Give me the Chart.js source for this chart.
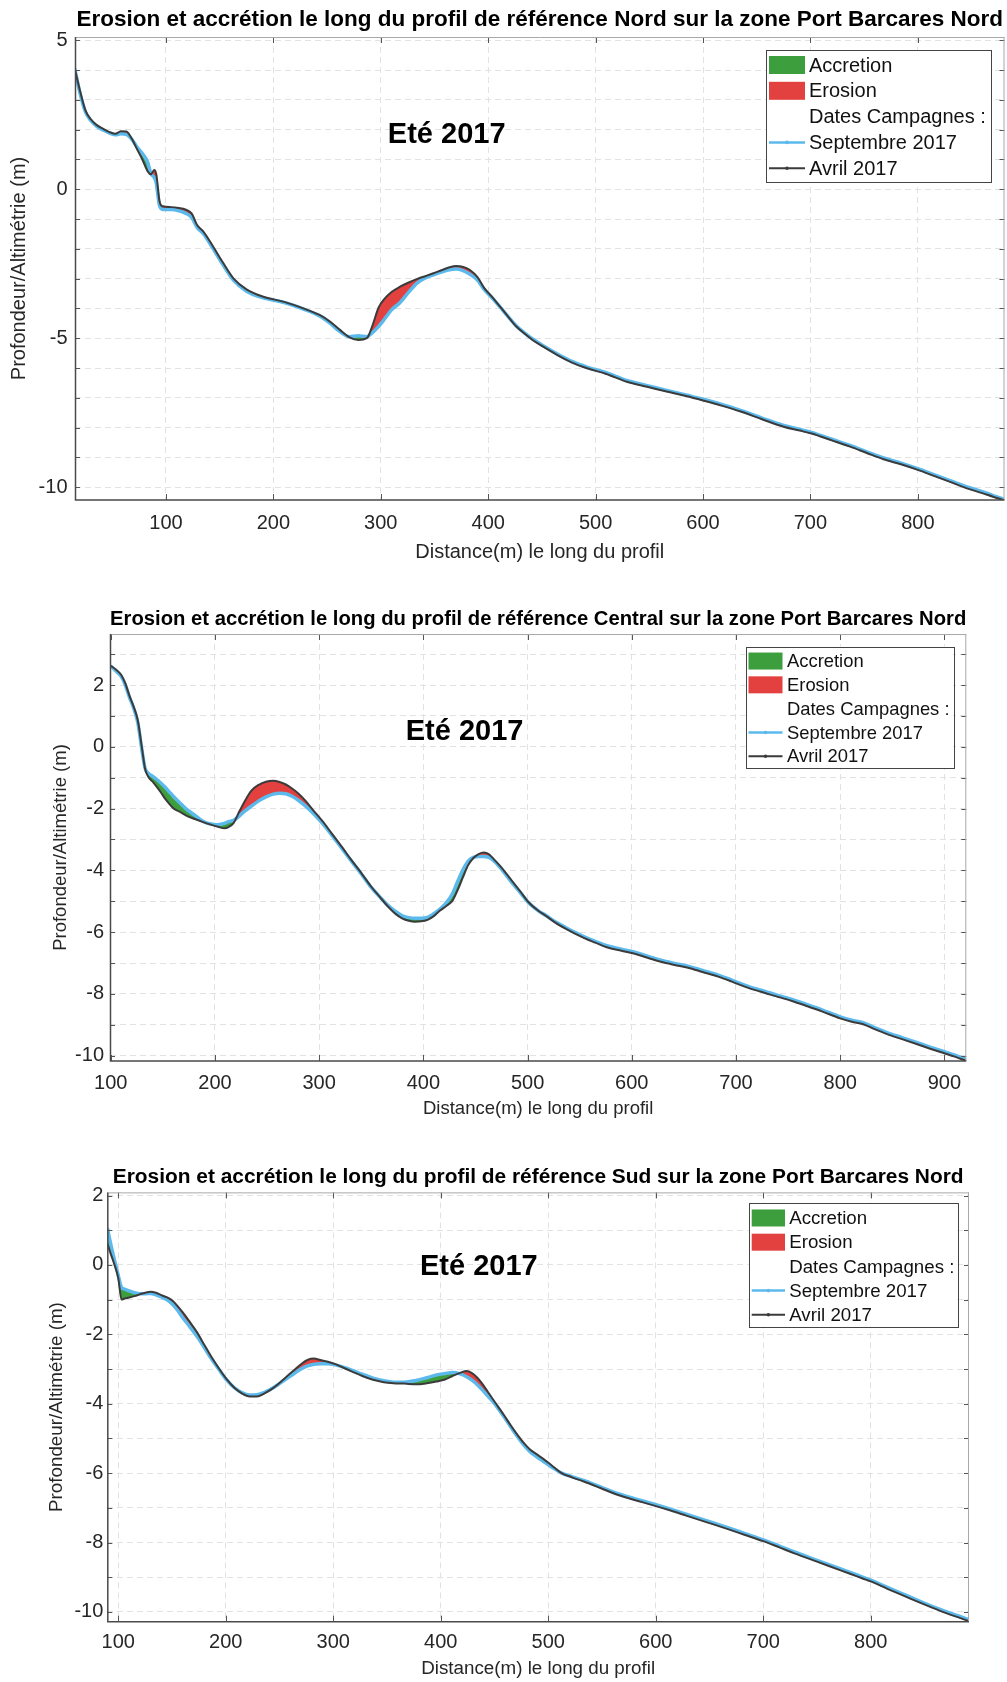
<!DOCTYPE html>
<html lang="fr">
<head>
<meta charset="utf-8">
<title>Erosion et accrétion - Port Barcares Nord - Eté 2017</title>
<script src="https://cdn.jsdelivr.net/npm/chart.js@4.4.1/dist/chart.umd.min.js"></script>
<style>
  html, body { margin: 0; padding: 0; background: #fff; }
  body { width: 1007px; height: 1682px; position: relative; overflow: hidden; }
  canvas { position: absolute; left: 0; }
  #profilNord { top: 0; }
  #profilCentral { top: 585px; }
  #profilSud { top: 1140px; }
</style>
</head>
<body>
<canvas id="profilNord" width="1007" height="575"></canvas>
<canvas id="profilCentral" width="1007" height="545"></canvas>
<canvas id="profilSud" width="1007" height="542"></canvas>

<script>

// profil Nord
const distNord = [15, 20, 25, 30, 35, 42, 48, 53, 58, 63,
  68, 73, 78, 83, 86, 89, 91, 94, 97, 105,
  112, 118, 124, 129, 135, 144, 153, 163, 175, 190,
  210, 228, 243, 253, 262, 271, 279, 287, 292, 298,
  303, 310, 318, 326, 334, 342, 349, 357, 364, 370,
  376, 383, 390, 396, 404, 411, 418, 426, 434, 441,
  452, 464, 478, 492, 510, 529, 548, 566, 584, 600,
  618, 635, 655, 675, 690, 701, 720, 737, 753, 768,
  785, 800, 815, 830, 845, 860, 870, 880];
const avrilNord = [4.06, 3.3, 2.65, 2.35, 2.17, 2.02, 1.91, 1.86, 1.95, 1.94,
  1.71, 1.35, 1.0, 0.6, 0.5, 0.65, 0.5, -0.4, -0.57, -0.6,
  -0.63, -0.68, -0.82, -1.2, -1.43, -1.93, -2.46, -3.0, -3.36, -3.6,
  -3.78, -4.0, -4.22, -4.45, -4.72, -4.97, -5.06, -5.0, -4.6, -3.97,
  -3.7, -3.45, -3.27, -3.13, -3.01, -2.91, -2.82, -2.71, -2.62, -2.58,
  -2.6, -2.71, -2.95, -3.3, -3.63, -3.94, -4.25, -4.6, -4.85, -5.05,
  -5.3, -5.56, -5.82, -6.01, -6.2, -6.46, -6.63, -6.79, -6.94, -7.09,
  -7.27, -7.46, -7.72, -7.97, -8.1, -8.2, -8.43, -8.64, -8.86, -9.06,
  -9.24, -9.42, -9.62, -9.82, -10.03, -10.2, -10.32, -10.43];
const septNord = [4.06, 3.22, 2.6, 2.31, 2.13, 1.98, 1.88, 1.83, 1.86, 1.84,
  1.68, 1.42, 1.2, 0.9, 0.52, 0.4, 0.2, -0.55, -0.68, -0.68,
  -0.72, -0.8, -0.95, -1.28, -1.5, -2.0, -2.53, -3.06, -3.42, -3.64,
  -3.8, -4.02, -4.25, -4.5, -4.78, -4.95, -4.92, -4.95, -4.82, -4.6,
  -4.38, -4.05, -3.8, -3.45, -3.14, -2.97, -2.87, -2.77, -2.7, -2.68,
  -2.72, -2.85, -3.05, -3.35, -3.66, -3.95, -4.25, -4.58, -4.83, -5.02,
  -5.27, -5.52, -5.78, -5.97, -6.16, -6.42, -6.59, -6.75, -6.9, -7.05,
  -7.23, -7.42, -7.68, -7.93, -8.06, -8.16, -8.39, -8.6, -8.82, -9.02,
  -9.2, -9.38, -9.58, -9.78, -9.98, -10.15, -10.28, -10.4];

// profil Central
const distCentral = [100, 105, 110, 114, 118, 122, 126, 130, 133, 136,
  140, 144, 148, 152, 156, 160, 166, 172, 180, 188,
  196, 203, 209, 213, 218, 223, 228, 235, 242, 249,
  256, 262, 268, 274, 280, 287, 294, 303, 312, 322,
  331, 341, 350, 358, 366, 373, 380, 386, 392, 398,
  404, 410, 416, 422, 428, 433, 438, 443, 448, 453,
  458, 463, 468, 474, 480, 486, 493, 501, 510, 518,
  527, 536, 545, 555, 565, 576, 590, 602, 615, 628,
  641, 654, 668, 683, 696, 709, 723, 738, 753, 767,
  783, 800, 811, 822, 833, 845, 860, 874, 887, 900,
  910, 921];
const avrilCentral = [2.62, 2.5, 2.33, 2.05, 1.65, 1.3, 0.85, -0.05, -0.72, -0.97,
  -1.12, -1.29, -1.47, -1.67, -1.84, -1.99, -2.1, -2.22, -2.33, -2.43,
  -2.52, -2.59, -2.64, -2.6, -2.46, -2.12, -1.8, -1.42, -1.23, -1.13,
  -1.1, -1.14, -1.22, -1.35, -1.51, -1.75, -2.04, -2.4, -2.8, -3.25,
  -3.67, -4.11, -4.53, -4.85, -5.17, -5.4, -5.56, -5.63, -5.66, -5.65,
  -5.6, -5.48, -5.3, -5.15, -4.98, -4.63, -4.22, -3.83, -3.6, -3.47,
  -3.42, -3.48, -3.65, -3.87, -4.12, -4.38, -4.68, -5.03, -5.3, -5.48,
  -5.7, -5.88, -6.04, -6.2, -6.34, -6.49, -6.6, -6.69, -6.83, -6.96,
  -7.06, -7.15, -7.29, -7.44, -7.6, -7.77, -7.92, -8.07, -8.22, -8.38,
  -8.57, -8.79, -8.9, -8.98, -9.14, -9.3, -9.47, -9.63, -9.78, -9.92,
  -10.03, -10.17];
const septCentral = [2.62, 2.45, 2.28, 2.0, 1.6, 1.25, 0.78, -0.12, -0.7, -0.85,
  -0.95, -1.05, -1.17, -1.3, -1.45, -1.6, -1.8, -2.0, -2.2, -2.4,
  -2.5, -2.52, -2.48, -2.42, -2.38, -2.25, -2.1, -1.92, -1.75, -1.62,
  -1.53, -1.5, -1.52, -1.6, -1.73, -1.92, -2.14, -2.47, -2.85, -3.3,
  -3.7, -4.14, -4.55, -4.85, -5.13, -5.32, -5.47, -5.53, -5.55, -5.55,
  -5.52, -5.4, -5.25, -5.05, -4.75, -4.35, -3.98, -3.7, -3.58, -3.55,
  -3.55, -3.58, -3.7, -3.92, -4.18, -4.44, -4.72, -5.05, -5.3, -5.47,
  -5.67, -5.84, -6.0, -6.16, -6.3, -6.44, -6.55, -6.64, -6.78, -6.91,
  -7.01, -7.1, -7.24, -7.39, -7.55, -7.72, -7.87, -8.02, -8.17, -8.33,
  -8.52, -8.74, -8.85, -8.93, -9.09, -9.25, -9.42, -9.58, -9.73, -9.87,
  -9.98, -10.12];

// profil Sud
const distSud = [90, 93, 96, 100, 103, 106, 110, 115, 120, 125,
  130, 135, 140, 145, 150, 155, 160, 166, 173, 180,
  187, 194, 201, 208, 215, 222, 229, 236, 243, 250,
  257, 264, 270, 276, 282, 288, 295, 302, 310, 318,
  327, 337, 347, 356, 366, 377, 387, 396, 404, 411,
  418, 424, 429, 434, 438, 443, 448, 453, 459, 465,
  471, 477, 483, 489, 495, 503, 512, 522, 533, 548,
  565, 581, 597, 613, 629, 647, 665, 683, 700, 715,
  729, 750, 772, 786, 800, 816, 832, 848, 864, 878, 891];
const avrilSud = [0.6, 0.32, 0.05, -0.38, -1.0, -0.97, -0.94, -0.9, -0.85, -0.8,
  -0.77, -0.8, -0.87, -0.93, -1.02, -1.18, -1.37, -1.62, -1.93, -2.3,
  -2.67, -3.0, -3.3, -3.54, -3.7, -3.79, -3.79, -3.7, -3.57, -3.4,
  -3.21, -3.02, -2.86, -2.74, -2.7, -2.74, -2.79, -2.86, -2.97, -3.08,
  -3.2, -3.31, -3.38, -3.41, -3.42, -3.44, -3.41, -3.36, -3.3, -3.2,
  -3.11, -3.06, -3.12, -3.25, -3.4, -3.62, -3.85, -4.07, -4.34, -4.62,
  -4.88, -5.12, -5.32, -5.45, -5.58, -5.77, -5.99, -6.12, -6.24, -6.42,
  -6.63, -6.78, -6.92, -7.07, -7.23, -7.41, -7.59, -7.78, -7.96, -8.14,
  -8.31, -8.55, -8.8, -8.96, -9.12, -9.34, -9.55, -9.76, -9.96, -10.12, -10.26];
const septSud = [1.05, 0.6, 0.2, -0.3, -0.65, -0.7, -0.75, -0.8, -0.83, -0.83,
  -0.82, -0.86, -0.92, -1.0, -1.12, -1.3, -1.52, -1.76, -2.05, -2.38,
  -2.72, -3.03, -3.32, -3.54, -3.68, -3.75, -3.74, -3.67, -3.56, -3.42,
  -3.27, -3.12, -3.0, -2.91, -2.86, -2.85, -2.85, -2.88, -2.95, -3.04,
  -3.15, -3.26, -3.34, -3.38, -3.38, -3.33, -3.25, -3.17, -3.13, -3.1,
  -3.14, -3.22, -3.32, -3.45, -3.58, -3.75, -3.92, -4.12, -4.38, -4.66,
  -4.93, -5.18, -5.38, -5.52, -5.65, -5.82, -5.99, -6.1, -6.21, -6.39,
  -6.59, -6.74, -6.88, -7.03, -7.19, -7.37, -7.55, -7.74, -7.92, -8.1,
  -8.27, -8.51, -8.76, -8.92, -9.08, -9.3, -9.51, -9.72, -9.92, -10.08, -10.22];

// graduations affichées
const xEtiquettesNord = [100, 200, 300, 400, 500, 600, 700, 800];
const yEtiquettesNord = [-10, -5, 0, 5];
const xEtiquettesCentral = [100, 200, 300, 400, 500, 600, 700, 800, 900];
const yEtiquettesCentral = [-10, -8, -6, -4, -2, 0, 2];
const xEtiquettesSud = [100, 200, 300, 400, 500, 600, 700, 800];
const yEtiquettesSud = [-10, -8, -6, -4, -2, 0, 2];

// textes
const titreNord = "Erosion et accrétion le long du profil de référence Nord sur la zone Port Barcares Nord";
const titreCentral = "Erosion et accrétion le long du profil de référence Central sur la zone Port Barcares Nord";
const titreSud = "Erosion et accrétion le long du profil de référence Sud sur la zone Port Barcares Nord";
const saison = "Eté 2017";
const legendeTextes = ["Accretion", "Erosion", "Dates Campagnes :", "Septembre 2017", "Avril 2017"];

// ---- styles ----
const POLICE = "'Liberation Sans', Arial, Helvetica, sans-serif";
const NOIR = "#3b3b3b";
const BLEU = "#5cb9ec";
const ROUGE = "#e2413f";
const VERT = "#3c9e3c";
const GRILLE = "#e2e2e2";
const TEXTE = "#262626";

// boîte façon MATLAB autour du tracé, avec petites graduations vers l'intérieur
const cadre = {
  id: "cadre",
  afterDatasetsDraw(chart) {
    const { ctx, chartArea: a, scales: { x, y } } = chart;
    ctx.save();
    ctx.lineWidth = 1;
    ctx.strokeStyle = "#555";
    ctx.beginPath();
    y.ticks.forEach(t => {
      const py = Math.round(y.getPixelForValue(t.value)) + 0.5;
      ctx.moveTo(a.left, py); ctx.lineTo(a.left + 5, py);
      ctx.moveTo(a.right, py); ctx.lineTo(a.right - 5, py);
    });
    x.ticks.forEach(t => {
      const px = Math.round(x.getPixelForValue(t.value)) + 0.5;
      ctx.moveTo(px, a.top); ctx.lineTo(px, a.top + 6);
      ctx.moveTo(px, a.bottom); ctx.lineTo(px, a.bottom - 6);
    });
    ctx.stroke();
    // haut et droite plus clairs
    ctx.strokeStyle = "#a8a8a8";
    ctx.beginPath();
    ctx.moveTo(a.left, a.top + 0.5); ctx.lineTo(a.right, a.top + 0.5);
    ctx.moveTo(a.right - 0.5, a.top); ctx.lineTo(a.right - 0.5, a.bottom);
    ctx.stroke();
    // gauche et bas foncés
    ctx.strokeStyle = "#4a4a4a";
    ctx.lineWidth = 1.5;
    ctx.beginPath();
    ctx.moveTo(a.left + 0.5, a.top); ctx.lineTo(a.left + 0.5, a.bottom);
    ctx.lineTo(a.right, a.bottom);
    ctx.stroke();
    ctx.restore();
  }
};

// légende encadrée dans le coin haut droit + texte de la saison
const cartouche = {
  id: "cartouche",
  afterDraw(chart, args, o) {
    const { ctx, chartArea: a } = chart;
    const g = a.right - o.marge[0] - o.largeur;
    const h = a.top + o.marge[1];
    ctx.save();
    ctx.fillStyle = "#fff";
    ctx.fillRect(g, h, o.largeur, o.hauteur);
    ctx.strokeStyle = "#444";
    ctx.lineWidth = 1;
    ctx.strokeRect(Math.round(g) + 0.5, Math.round(h) + 0.5, Math.round(o.largeur), Math.round(o.hauteur));

    const styles = [
      { type: "aire", couleur: VERT },
      { type: "aire", couleur: ROUGE },
      { type: "rien" },
      { type: "ligne", couleur: BLEU, epaisseur: 2.5 },
      { type: "ligne", couleur: NOIR, epaisseur: 2 }
    ];
    ctx.font = o.taille + "px " + POLICE;
    ctx.textBaseline = "middle";
    ctx.textAlign = "left";
    legendeTextes.forEach((txt, i) => {
      const cy = h + o.premier + i * o.pas;
      const s = styles[i];
      if (s.type === "aire") {
        ctx.fillStyle = s.couleur;
        ctx.fillRect(g + 3, cy - o.carre / 2, o.trait, o.carre);
      } else if (s.type === "ligne") {
        ctx.strokeStyle = s.couleur;
        ctx.lineWidth = s.epaisseur;
        ctx.beginPath();
        ctx.moveTo(g + 3, cy); ctx.lineTo(g + 3 + o.trait, cy);
        ctx.stroke();
        ctx.fillStyle = s.couleur;
        ctx.beginPath();
        ctx.arc(g + 3 + o.trait / 2, cy, 1.8, 0, Math.PI * 2);
        ctx.fill();
      }
      ctx.fillStyle = "#111";
      ctx.fillText(txt, g + o.xTexte, cy + 1);
    });

    // "Eté 2017"
    ctx.font = "bold " + o.tailleSaison + "px " + POLICE;
    ctx.textAlign = "center";
    ctx.fillStyle = "#000";
    ctx.fillText(saison, a.left + o.saison[0], a.top + o.saison[1]);
    ctx.restore();
  }
};

function points(dist, alt) {
  return dist.map((d, i) => ({ x: d, y: alt[i] }));
}

function graphique(id, p) {
  const ctx = document.getElementById(id).getContext("2d");
  return new Chart(ctx, {
    type: "line",
    data: {
      datasets: [{
        label: "Avril 2017",
        data: points(p.dist, p.avril),
        borderColor: NOIR,
        borderWidth: 2,
        pointRadius: 0,
        cubicInterpolationMode: "monotone",
        fill: { target: 1, above: ROUGE, below: VERT }
      }, {
        label: "Septembre 2017",
        data: points(p.dist, p.sept),
        borderColor: BLEU,
        borderWidth: 3.5,
        pointRadius: 0,
        cubicInterpolationMode: "monotone",
        fill: false
      }]
    },
    plugins: [cadre, cartouche],
    options: {
      responsive: false,
      animation: false,
      events: [],
      layout: { padding: { left: p.padG, right: p.padD, top: 0, bottom: 0 } },
      plugins: {
        legend: { display: false },
        tooltip: { enabled: false },
        filler: { drawTime: "beforeDatasetsDraw" },
        title: {
          display: true,
          text: p.titre,
          fullSize: false,
          color: "#000",
          font: { family: POLICE, size: p.tailleTitre, weight: "bold", lineHeight: 1.2 },
          padding: { top: p.titreHaut, bottom: p.titreBas }
        },
        cartouche: p.cartouche
      },
      scales: {
        x: {
          type: "linear",
          min: p.xMin,
          max: p.xMax,
          afterBuildTicks: s => { s.ticks = p.xEtiquettes.map(v => ({ value: v })); },
          afterFit: s => { s.height = p.hautX; },
          ticks: {
            autoSkip: false, maxRotation: 0, padding: p.padTicksX, color: TEXTE,
            font: { family: POLICE, size: 20, lineHeight: 1.2 },
            callback: v => String(v)
          },
          grid: { color: GRILLE, drawTicks: false, lineWidth: 1 },
          border: { display: false, dash: [6, 4] },
          title: {
            display: true, text: "Distance(m) le long du profil", color: TEXTE,
            font: { family: POLICE, size: p.tailleAxe, lineHeight: 1.2 },
            padding: { top: 0, bottom: p.titreXBas }
          }
        },
        y: {
          type: "linear",
          min: p.yMin,
          max: p.yMax,
          afterBuildTicks: s => {
            const t = [];
            for (let v = Math.ceil(p.yMin); v <= Math.floor(p.yMax); v++) t.push({ value: v });
            s.ticks = t;
          },
          afterFit: s => { s.width = p.largeurY; },
          ticks: {
            autoSkip: false, padding: p.padTicksY, color: TEXTE,
            font: { family: POLICE, size: 20, lineHeight: 1.2 },
            callback: v => (p.yEtiquettes.includes(v) ? String(v) : "")
          },
          grid: { color: GRILLE, drawTicks: false, lineWidth: 1 },
          border: { display: false, dash: [6, 4] },
          title: {
            display: true, text: "Profondeur/Altimétrie (m)", color: TEXTE,
            font: { family: POLICE, size: p.tailleAxe, lineHeight: 1.2 },
            padding: { top: p.titreYHaut, bottom: 0 }
          }
        }
      }
    }
  });
}

graphique("profilNord", {
  dist: distNord, avril: avrilNord, sept: septNord,
  xEtiquettes: xEtiquettesNord, yEtiquettes: yEtiquettesNord, titre: titreNord,
  xMin: 15.3, xMax: 880.7, yMin: -10.43, yMax: 5.11,
  padG: 0, padD: 2.5, largeurY: 75, hautX: 75,
  tailleTitre: 22.5, titreHaut: 6.4, titreBas: 3.6,
  tailleAxe: 20, titreXBas: 11, titreYHaut: 7,
  padTicksX: 11, padTicksY: 7.5,
  cartouche: { marge: [13.8, 13], largeur: 224.7, hauteur: 131.7, premier: 15, pas: 25.8,
    taille: 20, xTexte: 43, trait: 36, carre: 18, saison: [371.7, 98], tailleSaison: 29 }
});

graphique("profilCentral", {
  dist: distCentral, avril: avrilCentral, sept: septCentral,
  xEtiquettes: xEtiquettesCentral, yEtiquettes: yEtiquettesCentral, titre: titreCentral,
  xMin: 99.3, xMax: 921, yMin: -10.17, yMax: 3.65,
  padG: 40, padD: 40.7, largeurY: 70, hautX: 69,
  tailleTitre: 20.7, titreHaut: 22.2, titreBas: 2,
  tailleAxe: 18.5, titreXBas: 10.3, titreYHaut: 9.9,
  padTicksX: 10, padTicksY: 6,
  cartouche: { marge: [13.3, 12.5], largeur: 207.5, hauteur: 121.2, premier: 14.5, pas: 23.8,
    taille: 18.4, xTexte: 41.5, trait: 34, carre: 17, saison: [354.6, 97.5], tailleSaison: 29 }
});

graphique("profilSud", {
  dist: distSud, avril: avrilSud, sept: septSud,
  xEtiquettes: xEtiquettesSud, yEtiquettes: yEtiquettesSud, titre: titreSud,
  xMin: 89.8, xMax: 891.4, yMin: -10.28, yMax: 2.09,
  padG: 37, padD: 38, largeurY: 70.3, hautX: 60.3,
  tailleTitre: 20.9, titreHaut: 24.5, titreBas: 2.8,
  tailleAxe: 18.8, titreXBas: 1.7, titreYHaut: 8.2,
  padTicksX: 8.3, padTicksY: 4,
  cartouche: { marge: [11.4, 10.6], largeur: 208.9, hauteur: 123.5, premier: 15, pas: 24.2,
    taille: 18.7, xTexte: 40.5, trait: 33.3, carre: 17, saison: [371.5, 74.6], tailleSaison: 29 }
});
</script>
</body>
</html>
